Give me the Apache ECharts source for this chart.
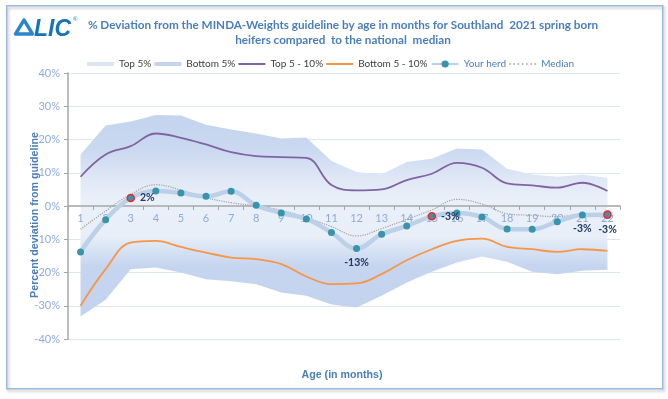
<!DOCTYPE html>
<html><head><meta charset="utf-8">
<script src="https://cdn.jsdelivr.net/npm/echarts@6/dist/echarts.min.js"></script>
<style>html,body{margin:0;padding:0;background:#fff}#c{width:668px;height:399px}</style>
</head><body><div id="c"></div>
<script>
// ---- data ----
const ages = ['1','2','3','4','5','6','7','8','9','10','11','12','13','14','15','16','17','18','19','20','21','22'];
const top5 = [15.5,24.2,25.4,27.4,27.2,24.4,23.0,21.8,20.3,20.6,13.5,10.2,9.5,13.2,14.2,17.3,17.0,11.2,9.5,8.8,9.4,8.5];
const bottom5 = [-33.2,-28.2,-19.0,-18.5,-20.0,-22.0,-22.6,-23.5,-26.0,-27.0,-29.6,-30.5,-27.0,-23.0,-19.8,-17.0,-15.2,-16.8,-19.8,-20.5,-19.5,-19.2];
const top5to10 = [8.8,15.5,18.0,21.8,20.5,18.5,16.2,15.0,14.7,14.5,6.3,4.7,5.0,7.8,9.7,13.0,11.5,6.8,6.2,5.5,7.0,4.5];
const bottom5to10 = [-30.0,-19.0,-11.0,-10.5,-12.3,-14.0,-15.5,-16.0,-17.5,-21.2,-23.5,-23.3,-20.5,-16.3,-13.0,-10.5,-9.8,-12.3,-13.0,-13.8,-13.0,-13.5];
const yourHerd = [-13.8,-4.1,2.4,4.5,3.9,2.9,4.4,0.2,-2.1,-3.9,-8.0,-12.8,-8.5,-6.0,-3.1,-2.1,-3.3,-6.9,-7.0,-4.7,-2.7,-2.6];
const median = [-7.0,-1.5,3.5,6.4,4.8,2.5,1.0,0.0,-1.3,-3.5,-6.2,-9.0,-6.8,-4.0,-1.2,2.0,0.6,-2.3,-2.8,-3.2,-2.5,-3.7];
const yMin = -40, yMax = 40, yStep = 10;
const titleLines = ['% Deviation from the MINDA-Weights guideline by age in months for Southland  2021 spring born', 'heifers compared  to the national  median'];
const yName = 'Percent deviation from guideline';
const xName = 'Age (in months)';
// labelled points (index into ages) and which of them are highlighted
const labelled = {2:'right', 11:'bottom', 14:'right', 20:'bottom', 21:'bottom'};
const highlighted = [2, 14, 21];

// ---- layout / style ----
const GRID_L = 68, GRID_T = 73, GRID_R = 48, GRID_H = 266;
const cvs = document.createElement('canvas').getContext('2d');
function fit(text, weight, family, target) {
  cvs.font = weight + ' 100px ' + family;
  return 100 * target / cvs.measureText(text).width;
}
const titleSize = Math.min(14, fit(titleLines[0], 'bold', '"Lato"', 511));
const yNameSize = Math.min(13, fit(yName, 'bold', '"Liberation Sans"', 166));
const xNameSize = Math.min(13, fit(xName, 'bold', '"Liberation Sans"', 81));

function off(v) { return (yMax - v) / (yMax - yMin); }
const bandFill = {
  type: 'linear', x: 0, y: GRID_T, x2: 0, y2: GRID_T + GRID_H, global: true,
  colorStops: [
    {offset: off(28), color: '#c4d4ee'},
    {offset: off(17), color: '#cad8f0'},
    {offset: off(8), color: '#e0e8f6'},
    {offset: off(2), color: '#eaf0f9'},
    {offset: off(-9), color: '#e9eff8'},
    {offset: off(-13), color: '#d8e3f4'},
    {offset: off(-18), color: '#c6d5ef'},
    {offset: off(-34), color: '#c2d2ee'}
  ]
};

const herdData = yourHerd.map((v, i) => {
  const d = {value: v};
  if (labelled[i]) {
    d.label = {show: true, position: labelled[i], distance: 5,
      formatter: p => Math.round(p.value) + '%', color: '#1f3864', fontWeight: 'bold',
      fontFamily: 'Lato', fontSize: 10.5};
  }
  if (highlighted.includes(i)) {
    d.itemStyle = {color: '#3894aa', borderColor: '#ee2a2a', borderWidth: 1.6};
  }
  return d;
});

// legend icons
const barIcon = 'path://M0,0H27V4H0Z';
const lineIcon = 'path://M0,0H27V2H0Z';
let dots = '';
for (let k = 0; k < 7; k++) dots += 'M' + (k * 4.2) + ',0h1.6v1.4h-1.6Z';
const dotIcon = 'path://' + dots;

const chart = echarts.init(document.getElementById('c'), null, {renderer: 'canvas'});
const legendText = {color: '#404040', fontFamily: 'Lato', fontSize: 10};
chart.setOption({
  animation: false,
  backgroundColor: '#ffffff',
  title: {
    text: titleLines.join('\n'), left: 338, top: 12, textAlign: 'center',
    textStyle: {color: '#4a7ebb', fontFamily: 'Lato', fontWeight: 'bold', fontSize: titleSize, lineHeight: 15.5}
  },
  legend: {
    left: 82, top: 54, itemWidth: 27, itemHeight: 9, itemGap: 3,
    textStyle: legendText,
    data: [
      {name: 'Top 5%', icon: barIcon, itemStyle: {color: '#dce6f3'}},
      {name: 'Bottom 5%', icon: barIcon, itemStyle: {color: '#c6d5ee'}},
      {name: 'Top 5 - 10%', icon: lineIcon, itemStyle: {color: '#8064a2'}},
      {name: 'Bottom 5 - 10%', icon: lineIcon, itemStyle: {color: '#f79646'}},
      {name: 'Your herd', textStyle: {color: '#4a7ebb'}},
      {name: 'Median', icon: dotIcon, itemStyle: {color: '#a0a0a0'}, textStyle: {color: '#4a7ebb'}}
    ]
  },
  grid: {left: GRID_L, top: GRID_T, right: GRID_R, height: GRID_H, containLabel: false},
  xAxis: {
    type: 'category', data: ages, boundaryGap: true, position: 'bottom', z: 2,
    offset: -GRID_H * (0 - yMin) / (yMax - yMin),
    axisLine: {onZero: false, lineStyle: {color: '#a6a6a6', width: 1.5}},
    axisTick: {show: true, length: 4, lineStyle: {color: '#a6a6a6'}},
    axisLabel: {color: '#8eaadb', fontFamily: 'Lato', fontSize: 11, margin: 7, interval: 0},
    splitLine: {show: false}
  },
  yAxis: {
    type: 'value', min: yMin, max: yMax, interval: yStep, z: 0,
    axisLine: {show: true, lineStyle: {color: '#a6a6a6', width: 1.5}},
    axisTick: {show: true, length: 4, lineStyle: {color: '#a6a6a6'}},
    axisLabel: {color: '#8eaadb', fontFamily: 'Lato', fontSize: 11, margin: 8, formatter: '{value}%'},
    splitLine: {lineStyle: {color: '#dce5f2', width: 1}}
  },
  series: [
    {name: 'Top 5%', type: 'line', data: top5, symbol: 'none', z: 1,
      lineStyle: {width: 0, opacity: 0}, areaStyle: {color: bandFill, opacity: 1, origin: 'auto'}},
    {name: 'Bottom 5%', type: 'line', data: bottom5, symbol: 'none', z: 1,
      lineStyle: {width: 0, opacity: 0}, areaStyle: {color: bandFill, opacity: 1, origin: 'auto'}},
    {name: 'Top 5 - 10%', type: 'line', data: top5to10, symbol: 'none', smooth: 0.4, z: 3,
      lineStyle: {color: '#8064a2', width: 1.8}, itemStyle: {color: '#8064a2'}},
    {name: 'Bottom 5 - 10%', type: 'line', data: bottom5to10, symbol: 'none', smooth: 0.4, z: 3,
      lineStyle: {color: '#f79646', width: 1.8}, itemStyle: {color: '#f79646'}},
    {name: 'Median', type: 'line', data: median, symbol: 'none', smooth: 0.4, z: 4,
      lineStyle: {color: '#a0a0a0', width: 1.2, type: 'dotted'}, itemStyle: {color: '#a0a0a0'}},
    {name: 'Your herd', type: 'line', data: herdData, symbol: 'circle', symbolSize: 7, smooth: 0.4, z: 5,
      lineStyle: {color: '#bcd0e8', width: 4.5}, itemStyle: {color: '#3894aa'}}
  ],
  graphic: [
    {type: 'rect', left: 6, top: 5, shape: {width: 656, height: 383},
      style: {fill: 'rgba(0,0,0,0)', stroke: '#9cb9de', lineWidth: 1.5, shadowBlur: 3, shadowOffsetX: 1.5, shadowOffsetY: 2, shadowColor: 'rgba(0,0,0,0.25)'}, z: -10, silent: true},
    {type: 'polygon', shape: {points: [[24, 20], [32.5, 34], [15.5, 34]]},
      style: {fill: 'none', stroke: '#2b86cc', lineWidth: 3.4, lineJoin: 'round'}, z: 10},
    {type: 'text', x: 34, y: 18, style: {text: 'LIC', font: 'italic 900 23px "Liberation Sans"', fill: '#1a72b9', verticalAlign: 'top'}, z: 10},
    {type: 'text', x: 73, y: 19, style: {text: '®', font: '6px "Liberation Sans"', fill: '#1a72b9', verticalAlign: 'middle'}, z: 10},
    {type: 'text', x: 35, y: 215, rotation: Math.PI / 2,
      style: {text: yName, font: 'bold ' + yNameSize.toFixed(2) + 'px "Liberation Sans"', fill: '#4a7ebb', align: 'center', verticalAlign: 'middle'}, z: 10},
    {type: 'text', x: 342, y: 375,
      style: {text: xName, font: 'bold ' + xNameSize.toFixed(2) + 'px "Liberation Sans"', fill: '#4a7ebb', align: 'center', verticalAlign: 'middle'}, z: 10}
  ]
});
</script></body></html>
